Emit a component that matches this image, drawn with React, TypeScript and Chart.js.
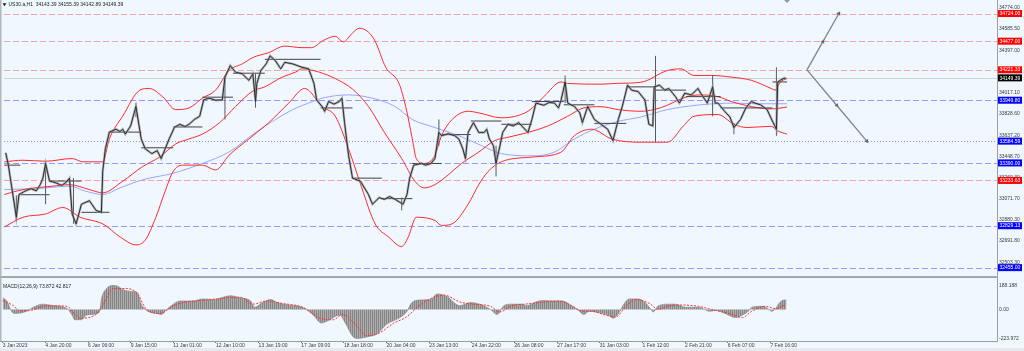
import { useEffect, useRef } from "react";
import { Chart, registerables } from "chart.js";
Chart.register(...registerables);

// ---------- data (bar index = hourly bar number from 3 Jan 2023) ----------
const BARS_PER_LABEL = 32;
const LAST_BAR = 588;
const X_MIN = -1.28;
const X_MAX = 746.0;

const timeLabels = [
  "3 Jan 2023", "4 Jan 20:00", "6 Jan 06:00", "9 Jan 15:00", "11 Jan 01:00", "12 Jan 10:00",
  "13 Jan 19:00", "17 Jan 09:00", "18 Jan 18:00", "20 Jan 04:00", "23 Jan 13:00", "24 Jan 22:00",
  "26 Jan 08:00", "27 Jan 17:00", "31 Jan 03:00", "1 Feb 12:00", "2 Feb 21:00", "6 Feb 07:00", "7 Feb 16:00",
];

const priceTicks = [34774.0, 34585.5, 34397.0, 34017.1, 33828.6, 33637.2, 33448.7, 33260.3, 33071.7, 32880.3, 32691.8, 32503.3];
const macdTicks = [188.188, 0, -223.972];
const macdTickText = ["188.188", "0.00", "-223.972"];

const redLevels = [34724.0, 34477.0, 34221.33, 33233.63];
const blueDashedLevels = [33949.8, 33390.0, 32829.13, 32455.0];
const blueDottedLevels = [33584.59];
const lastPrice = 34149.39;

const headerText = "US30.a,H1  34143.39 34155.39 34142.89 34149.39";
const macdText = "MACD(12,26,9) 73.872 42.817";

// close path [bar, price]
const closeSeries: number[][] = [
  [0, 33480], [2, 33370], [8, 32905], [10, 33108], [15, 33141], [19, 33160], [23, 33141], [26, 33196], [28, 33254], [30, 33385],
  [33, 33228], [38, 33211], [42, 33190], [45, 33211], [48, 33254], [50, 32934], [53, 32846], [57, 33021], [63, 33053], [68, 32966],
  [72, 32949], [73, 33315], [75, 33516], [78, 33665], [83, 33691], [86, 33670], [88, 33691], [90, 33647], [94, 33720], [98, 33894],
  [102, 33604], [105, 33516], [110, 33473], [114, 33500], [117, 33429], [120, 33516], [123, 33604], [127, 33708], [131, 33735], [135, 33715],
  [138, 33735], [142, 33778], [146, 33807], [149, 33953], [153, 33968], [158, 33950], [163, 33953], [165, 34156], [169, 34259], [173, 34200],
  [178, 34186], [183, 34128], [186, 34186], [188, 33938], [189, 34099], [192, 34215], [196, 34274], [199, 34346], [203, 34302], [207, 34230],
  [210, 34288], [216, 34274], [223, 34244], [228, 34230], [232, 34099], [234, 33953], [238, 33894], [240, 33851], [243, 33938], [247, 33915],
  [251, 33938], [253, 33968], [255, 33750], [258, 33458], [261, 33254], [267, 33226], [273, 33108], [276, 33021], [281, 33080], [285, 33065],
  [289, 33090], [293, 33065], [299, 33021], [302, 33108], [304, 33254], [307, 33370], [313, 33385], [316, 33370], [320, 33385], [323, 33429],
  [326, 33662], [328, 33633], [333, 33650], [338, 33633], [341, 33604], [344, 33516], [346, 33429], [348, 33662], [352, 33750], [356, 33662],
  [360, 33662], [362, 33691], [364, 33604], [367, 33545], [369, 33385], [372, 33545], [374, 33662], [378, 33735], [382, 33720], [386, 33750],
  [393, 33662], [396, 33778], [399, 33924], [405, 33905], [409, 33930], [413, 33924], [416, 33881], [418, 33953], [421, 34113], [423, 33924],
  [428, 33894], [432, 33837], [434, 33750], [438, 33894], [443, 33778], [448, 33735], [453, 33691], [457, 33589], [461, 33778], [464, 33894],
  [468, 34084], [471, 34040], [476, 34026], [481, 33953], [484, 33735], [487, 33720], [488, 34069], [492, 34084], [496, 34040], [499, 34055],
  [504, 33982], [507, 33924], [511, 34012], [516, 33997], [521, 34055], [523, 34012], [528, 33924], [532, 34069], [534, 33924], [536, 33924],
  [541, 33851], [545, 33800], [548, 33706], [553, 33778], [557, 33881], [561, 33938], [564, 33924], [568, 33909], [573, 33866], [577, 33763],
  [580, 33691], [581, 34113], [583, 34128], [585, 34143], [587, 34149],
];

// wick spikes [bar, low, high]
const wickSeries: number[][] = [
  [8, 32870, 33100], [30, 33021, 33403], [51, 32846, 33254], [98, 33800, 33924], [165, 33778, 34156], [188, 33883, 34186],
  [298, 32966, 33080], [326, 33545, 33778], [369, 33269, 33545], [421, 33924, 34171], [489, 33575, 34346], [532, 33807, 34171],
  [548, 33647, 33750], [580, 33632, 34244],
];

// daily open segments [start bar, level]
const dayLevels: number[][] = [
  [-1, 33370], [11, 33106], [33, 33228], [57, 32949], [78, 33665], [102, 33525], [126, 33711], [148, 33977], [171, 34191],
  [195, 34315], [237, 33881], [261, 33254], [283, 33071], [306, 33385], [328, 33643], [350, 33764], [373, 33735], [396, 33938],
  [420, 33909], [443, 33743], [467, 34069], [489, 34040], [512, 33982], [538, 33881], [577, 34113],
];

const bbUpper: number[][] = [
  [-1, 33400], [13, 33414], [30, 33405], [50, 33429], [58, 33400], [73, 33400], [78, 33604], [88, 33807], [101, 34040], [108, 34055],
  [118, 33982], [128, 33866], [138, 33881], [148, 33968], [158, 34040], [168, 34215], [178, 34274], [186, 34331], [198, 34375], [210, 34433],
  [223, 34419], [230, 34419], [239, 34483], [248, 34521], [254, 34471], [261, 34550], [266, 34593], [273, 34558], [278, 34477], [286, 34244],
  [296, 34099], [301, 33894], [306, 33604], [309, 33429], [315, 33385], [323, 33458], [328, 33633], [336, 33778], [348, 33851], [356, 33837],
  [373, 33793], [393, 33851], [405, 33982], [418, 34113], [423, 34099], [448, 34093], [461, 34101], [478, 34110], [498, 34215], [508, 34230],
  [518, 34171], [531, 34171], [546, 34156], [561, 34128], [576, 34055], [579, 34040], [583, 34113], [588, 34143],
];

const bbMiddle: number[][] = [
  [-1, 33108], [13, 33152], [35, 33182], [48, 33196], [63, 33152], [73, 33123], [88, 33226], [103, 33357], [116, 33444], [128, 33560],
  [138, 33604], [148, 33647], [161, 33750], [173, 33894], [186, 34032], [195, 34069], [208, 34156], [218, 34200], [223, 34230], [236, 34200],
  [248, 34143], [261, 34049], [273, 33894], [285, 33662], [298, 33429], [308, 33226], [315, 33167], [323, 33196], [333, 33283], [343, 33385],
  [356, 33487], [368, 33589], [378, 33619], [393, 33662], [408, 33720], [423, 33807], [435, 33881], [448, 33892], [461, 33866], [478, 33851],
  [493, 33883], [513, 33982], [523, 33997], [536, 33982], [546, 33938], [561, 33894], [576, 33872], [588, 33889],
];

const bbLower: number[][] = [
  [-1, 32818], [13, 32905], [30, 32934], [43, 32992], [56, 32905], [73, 32846], [86, 32730], [98, 32658], [105, 32701], [113, 32905],
  [120, 33138], [126, 33313], [133, 33370], [148, 33370], [158, 33327], [168, 33458], [183, 33604], [198, 33750], [213, 33924], [225, 34055],
  [238, 33894], [248, 33807], [258, 33516], [268, 33167], [278, 32846], [288, 32730], [298, 32643], [303, 32730], [309, 32905], [323, 32876],
  [328, 32832], [336, 32846], [348, 33021], [356, 33196], [363, 33313], [373, 33400], [398, 33444], [418, 33487], [428, 33633], [441, 33691],
  [456, 33604], [478, 33575], [498, 33575], [510, 33720], [518, 33807], [536, 33822], [548, 33735], [558, 33706], [576, 33717], [581, 33676],
  [588, 33647],
];

const maBlue: number[][] = [
  [-1, 33152], [23, 33161], [48, 33182], [60, 33138], [73, 33108], [86, 33167], [103, 33239], [126, 33298], [148, 33385], [168, 33487],
  [188, 33662], [203, 33778], [216, 33866], [231, 33938], [238, 33968], [258, 33997], [276, 33968], [293, 33894], [306, 33778], [323, 33706],
  [341, 33633], [358, 33545], [373, 33473], [398, 33453], [413, 33487], [428, 33604], [443, 33691], [461, 33761], [478, 33800], [498, 33866],
  [523, 33909], [548, 33924], [566, 33918], [588, 33918],
];

const macdHist: number[][] = [
  [0, 91], [3, 67], [7, -19], [9, -31], [18, -14], [23, 18], [30, 42], [38, 30], [48, 10], [52, -43], [54, -80], [59, -80], [63, -43],
  [71, -31], [73, 0], [74, 78], [78, 164], [82, 188], [86, 184], [90, 157], [98, 140], [101, 132], [104, 42], [108, -7], [116, -31],
  [119, -39], [123, 0], [128, 42], [133, 67], [143, 67], [150, 83], [158, 78], [171, 108], [178, 91], [186, 67], [189, 18], [195, 54],
  [201, 78], [206, 54], [213, 37], [223, 23], [229, -7], [233, -43], [239, -105], [244, -87], [253, -43], [257, -105], [263, -214],
  [266, -226], [273, -214], [281, -190], [288, -116], [298, -63], [303, -19], [307, 54], [313, 74], [321, 78], [326, 122], [333, 103],
  [343, 30], [351, 54], [358, 42], [366, 0], [371, -39], [376, 30], [381, 42], [390, 42], [393, 30], [400, 59], [405, 71], [412, 67],
  [420, 67], [425, 42], [432, -7], [436, -39], [440, -14], [447, -24], [455, -48], [458, -68], [462, -31], [466, 42], [470, 83], [477, 83],
  [482, 54], [487, -7], [488, -19], [492, 30], [500, 42], [505, 42], [512, 18], [522, 18], [527, -2], [530, -14], [535, -7], [542, -31],
  [550, -63], [555, -43], [560, -7], [562, 18], [570, 25], [575, 0], [577, -14], [580, 7], [582, 42], [586, 74], [588, 74],
];

const macdSignal: number[][] = [
  [0, 69], [8, 30], [13, -12], [23, -2], [33, 30], [48, 25], [58, -68], [70, -39], [75, 30], [83, 164], [93, 164], [101, 125], [108, 0],
  [118, -31], [128, 30], [138, 59], [153, 74], [168, 91], [178, 96], [188, 42], [198, 67], [210, 47], [225, 18], [238, -68], [248, -80],
  [255, -39], [266, -132], [273, -205], [283, -181], [293, -108], [303, -58], [311, 18], [318, 69], [331, 113], [343, 59], [353, 42],
  [366, 25], [373, -19], [382, 30], [392, 42], [402, 54], [417, 67], [427, 30], [435, -14], [442, -14], [452, -43], [460, -58], [467, 18],
  [475, 78], [485, 49], [492, 0], [500, 30], [510, 35], [522, 25], [532, 0], [545, -31], [555, -63], [562, -14], [572, 25], [580, 7], [588, 43],
];

// projection arrows [bar, price]
const arrowOrigin = [603, 34221.33];
const arrowUpTarget = [627, 34724.0];
const arrowDownTarget = [648, 33584.59];

// ---------- style ----------
const BG = "#f0f7ff";
const FONT = "'Liberation Sans', Arial, sans-serif";
const RED_LEVEL = "rgba(255,60,60,0.45)";
const BLUE_LEVEL = "rgba(40,40,255,0.45)";

const xy = (arr: number[][]) => arr.map(([x, y]) => ({ x, y }));

const mainDecor = {
  id: "mainDecor",
  beforeDraw(chart: any) {
    const { ctx, width, height } = chart;
    ctx.save();
    ctx.fillStyle = BG;
    ctx.fillRect(0, 0, width, height);
    ctx.restore();
  },
  beforeDatasetsDraw(chart: any) {
    const { ctx, chartArea: a, scales } = chart;
    const y = scales.y;
    ctx.save();
    ctx.lineWidth = 1;
    const hline = (v: number, color: string, dash: number[]) => {
      const py = Math.round(y.getPixelForValue(v)) + 0.5;
      ctx.strokeStyle = color;
      ctx.setLineDash(dash);
      ctx.beginPath();
      ctx.moveTo(a.left, py);
      ctx.lineTo(a.right, py);
      ctx.stroke();
    };
    hline(lastPrice, "#cdd2d8", []);
    redLevels.forEach((v) => hline(v, RED_LEVEL, [6, 3]));
    blueDashedLevels.forEach((v) => hline(v, BLUE_LEVEL, [6, 3]));
    blueDottedLevels.forEach((v) => hline(v, "rgba(70,70,255,0.55)", [1, 2]));
    ctx.restore();
  },
  afterDraw(chart: any) {
    const { ctx, chartArea: a, scales, height } = chart;
    const y = scales.y;
    const x = scales.x;
    ctx.save();
    // frame
    ctx.fillStyle = "#b4b8bd";
    ctx.fillRect(0, 0, 1.5, height);
    ctx.fillStyle = "#9a9ea3";
    ctx.fillRect(a.right, 0, 1, height);
    ctx.fillStyle = "#a8acb0";
    ctx.fillRect(0, height - 1, a.right + 1, 1);
    // level label boxes
    ctx.font = `5px ${FONT}`;
    ctx.textBaseline = "middle";
    ctx.textAlign = "left";
    const box = (v: number, bg: string) => {
      const py = y.getPixelForValue(v);
      ctx.fillStyle = bg;
      ctx.fillRect(a.right + 1, py - 3.5, 24, 7);
      ctx.fillStyle = "#ffffff";
      ctx.fillText(v.toFixed(2), a.right + 2.5, py + 0.3);
    };
    redLevels.forEach((v) => box(v, "#ff0000"));
    blueDashedLevels.forEach((v) => box(v, "#0000ff"));
    blueDottedLevels.forEach((v) => box(v, "#0000ff"));
    box(lastPrice, "#000000");
    // header
    ctx.fillStyle = "#222";
    ctx.beginPath();
    ctx.moveTo(2.5, 3.2);
    ctx.lineTo(6.5, 3.2);
    ctx.lineTo(4.5, 6.2);
    ctx.closePath();
    ctx.fill();
    ctx.font = `5px ${FONT}`;
    ctx.fillText(headerText, 8.5, 5);
    // chart shift marker
    const sx = x.getPixelForValue(LAST_BAR);
    ctx.fillStyle = "#9a9a9a";
    ctx.beginPath();
    ctx.moveTo(sx - 3, 0);
    ctx.lineTo(sx + 3, 0);
    ctx.lineTo(sx, 3);
    ctx.closePath();
    ctx.fill();
    ctx.restore();
  },
};

const macdDecor = {
  id: "macdDecor",
  beforeDraw(chart: any) {
    const { ctx, width, height } = chart;
    ctx.save();
    ctx.fillStyle = BG;
    ctx.fillRect(0, 0, width, height);
    ctx.fillStyle = "#e6e9ed";
    ctx.fillRect(0, height - 3, width, 3);
    ctx.restore();
  },
  afterDraw(chart: any) {
    const { ctx, chartArea: a } = chart;
    ctx.save();
    ctx.fillStyle = "#a0a4a8";
    ctx.fillRect(0, 0, a.right + 1, 1);
    ctx.fillStyle = "#b4b8bd";
    ctx.fillRect(0, 0, 1.5, a.bottom);
    ctx.fillStyle = "#9a9ea3";
    ctx.fillRect(a.right, 0, 1, a.bottom + 1);
    ctx.fillRect(0, a.bottom, a.right + 1, 1);
    ctx.fillStyle = "#222";
    ctx.font = `5px ${FONT}`;
    ctx.textBaseline = "middle";
    ctx.textAlign = "left";
    ctx.fillText(macdText, 3, a.top + 5);
    ctx.restore();
  },
};

export default function App() {
  const mainRef = useRef<HTMLCanvasElement>(null);
  const macdRef = useRef<HTMLCanvasElement>(null);

  useEffect(() => {
    const wickData = wickSeries.flatMap(([b, lo, hi]) => [
      { x: b, y: lo },
      { x: b, y: hi },
      { x: b, y: null as any },
    ]);
    const dayData = dayLevels.flatMap(([b, lvl], i) => {
      const end = i < dayLevels.length - 1 ? dayLevels[i + 1][0] : LAST_BAR;
      return [
        { x: b, y: lvl },
        { x: end, y: lvl },
        { x: end, y: null as any },
      ];
    });
    const mid = (p: number[], q: number[]) => ({ x: (p[0] + q[0]) / 2, y: (p[1] + q[1]) / 2 });
    const upArrow = [{ x: arrowOrigin[0], y: arrowOrigin[1] }, mid(arrowOrigin, arrowUpTarget), { x: arrowUpTarget[0], y: arrowUpTarget[1] }];
    const downArrow = [{ x: arrowOrigin[0], y: arrowOrigin[1] }, mid(arrowOrigin, arrowDownTarget), { x: arrowDownTarget[0], y: arrowDownTarget[1] }];

    const line = (data: any[], color: string, width: number, order: number, extra: any = {}) => ({
      type: "line",
      data,
      borderColor: color,
      backgroundColor: color,
      borderWidth: width,
      pointRadius: 0,
      tension: 0,
      fill: false,
      spanGaps: false,
      order,
      ...extra,
    });
    const smooth = { cubicInterpolationMode: "monotone" };

    const main = new Chart(mainRef.current as HTMLCanvasElement, {
      type: "line",
      data: {
        datasets: [
          line(upArrow, "#858585", 1.3, 0, {
            pointRadius: [0, 2.4, 2.6],
            pointStyle: "triangle",
            pointRotation: 29.5,
            pointBackgroundColor: "#6a6a6a",
            pointBorderWidth: 0,
          }),
          line(downArrow, "#858585", 1.3, 0, {
            pointRadius: [0, 2.4, 2.6],
            pointStyle: "triangle",
            pointRotation: 140.6,
            pointBackgroundColor: "#6a6a6a",
            pointBorderWidth: 0,
          }),
          line(xy(closeSeries), "#2e2e2e", 1, 1),
          line(xy(closeSeries), "rgba(150,150,150,0.7)", 2.4, 2),
          line(wickData, "#5a5a5a", 1, 3),
          line(dayData, "#404040", 1, 4),
          line(xy(bbUpper), "#ff2b2b", 1, 5, smooth),
          line(xy(bbMiddle), "#ff2b2b", 1, 5, smooth),
          line(xy(bbLower), "#ff2b2b", 1, 5, smooth),
          line(xy(maBlue), "#9aa6ff", 1, 6, smooth),
        ] as any,
      },
      options: {
        animation: false,
        responsive: false,
        devicePixelRatio: 1,
        events: [],
        layout: { padding: { left: 1, top: 3, right: 0, bottom: 1 } },
        plugins: { legend: { display: false }, tooltip: { enabled: false } },
        scales: {
          x: { type: "linear", min: X_MIN, max: X_MAX, display: false },
          y: {
            type: "linear",
            position: "right",
            min: 32416,
            max: 34800,
            grid: { display: false, drawTicks: false },
            border: { display: false },
            ticks: {
              autoSkip: false,
              padding: 2,
              color: "#3a3a3a",
              font: { size: 5, family: FONT },
              callback: (v: any) => Number(v).toFixed(2),
            },
            afterBuildTicks: (s: any) => {
              s.ticks = priceTicks.map((v) => ({ value: v }));
            },
            afterFit: (s: any) => {
              s.width = 27;
            },
          },
        },
      } as any,
      plugins: [mainDecor],
    });

    // histogram texture
    const pc = document.createElement("canvas");
    pc.width = 2;
    pc.height = 1;
    const pctx = pc.getContext("2d")!;
    pctx.fillStyle = "#858585";
    pctx.fillRect(0, 0, 1, 1);
    pctx.fillStyle = "#adadad";
    pctx.fillRect(1, 0, 1, 1);
    const pattern = pctx.createPattern(pc, "repeat");

    const macd = new Chart(macdRef.current as HTMLCanvasElement, {
      type: "line",
      data: {
        datasets: [
          line(xy(macdSignal), "#ff3030", 1, 1, { ...smooth, borderDash: [2, 1.5] }),
          line(xy(macdHist), "#858585", 0.6, 2, { ...smooth, fill: "origin", backgroundColor: pattern }),
        ] as any,
      },
      options: {
        animation: false,
        responsive: false,
        devicePixelRatio: 1,
        events: [],
        layout: { padding: { left: 1, top: 1, right: 0, bottom: 0 } },
        plugins: { legend: { display: false }, tooltip: { enabled: false } },
        scales: {
          x: {
            type: "linear",
            min: X_MIN,
            max: X_MAX,
            position: "bottom",
            grid: { display: true, drawOnChartArea: false, drawTicks: true, tickLength: 2, color: "#777" },
            border: { display: false },
            ticks: {
              autoSkip: false,
              maxRotation: 0,
              minRotation: 0,
              align: "start",
              padding: 0,
              color: "#3a3a3a",
              font: { size: 5, family: FONT },
              callback: (v: any) => timeLabels[Math.round(Number(v) / BARS_PER_LABEL)] ?? "",
            },
            afterBuildTicks: (s: any) => {
              s.ticks = timeLabels.map((_, k) => ({ value: k * BARS_PER_LABEL }));
            },
            afterFit: (s: any) => {
              s.height = 10;
            },
          },
          y: {
            type: "linear",
            position: "right",
            min: -246,
            max: 215,
            grid: { display: false, drawTicks: false },
            border: { display: false },
            ticks: {
              autoSkip: false,
              padding: 2,
              color: "#3a3a3a",
              font: { size: 5, family: FONT },
              callback: (_v: any, i: number) => macdTickText[i],
            },
            afterBuildTicks: (s: any) => {
              s.ticks = macdTicks.map((v) => ({ value: v }));
            },
            afterFit: (s: any) => {
              s.width = 27;
            },
          },
        },
      } as any,
      plugins: [macdDecor],
    });

    return () => {
      main.destroy();
      macd.destroy();
    };
  }, []);

  return (
    <div style={{ position: "fixed", left: 0, top: 0, width: 1024, height: 351, background: BG, overflow: "hidden" }}>
      <canvas ref={mainRef} width={1024} height={277} style={{ position: "absolute", left: 0, top: 0, width: 1024, height: 277 }} />
      <canvas ref={macdRef} width={1024} height={74} style={{ position: "absolute", left: 0, top: 277, width: 1024, height: 74 }} />
    </div>
  );
}
